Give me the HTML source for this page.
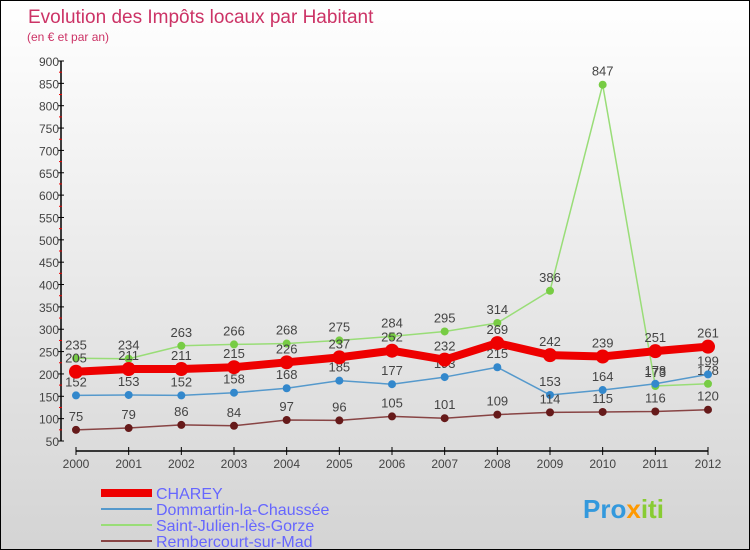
<!DOCTYPE html>
<html><head><meta charset="utf-8"><style>
body{margin:0}
#c{width:750px;height:550px;position:relative;box-sizing:border-box;border:1px solid #000;background:linear-gradient(#fff,#d4d4d4);font-family:"Liberation Sans","DejaVu Sans",sans-serif;overflow:hidden}
svg{position:absolute;left:0;top:0}
</style></head><body>
<div id="c">
<svg id="s" width="750" height="550"></svg>
</div>
<script>
const years=[2000,2001,2002,2003,2004,2005,2006,2007,2008,2009,2010,2011,2012];
const yTicks=[50,100,150,200,250,300,350,400,450,500,550,600,650,700,750,800,850,900];
const charey=[205,211,211,215,226,237,252,232,269,242,239,251,261];
const dommartin=[152,153,152,158,168,185,177,193,215,153,164,178,199];
const saintJulien=[235,234,263,266,268,275,284,295,314,386,847,173,178];
const rembercourt=[75,79,86,84,97,96,105,101,109,114,115,116,120];
const series=[
 {name:'Saint-Julien-lès-Gorze',vals:saintJulien,color:'#99dd77',dot:'#77cc44',w:1.5,r:4,id:'saint-julien'},
 {name:'Dommartin-la-Chaussée',vals:dommartin,color:'#5599cc',dot:'#3388cc',w:1.5,r:4,id:'dommartin'},
 {name:'Rembercourt-sur-Mad',vals:rembercourt,color:'#884444',dot:'#661a1a',w:1.5,r:4,id:'rembercourt'},
 {name:'CHAREY',vals:charey,color:'#ee0000',dot:'#ee0000',w:8,r:7,id:'charey'}];
const NS='http://www.w3.org/2000/svg',s=document.getElementById('s');
function X(i){return 75+i*(707-75)/12}
function Y(v){return 440-(v-50)*380/850}
function el(t,a,p){const e=document.createElementNS(NS,t);for(const k in a)e.setAttribute(k,a[k]);(p||s).appendChild(e);return e}
function tx(x,y,str,a){const e=el('text',Object.assign({x:x,y:y},a));e.textContent=str;return e}
let t=tx(27,22,'Evolution des Impôts locaux par Habitant',{fill:'#cc3366','font-size':19});

t=tx(26,40,'(en € et par an)',{fill:'#cc3366','font-size':12});

let a=el('line',{x1:60,y1:60,x2:60,y2:440,stroke:'#000','stroke-width':1.5});

yTicks.forEach((v,i)=>{const y=Y(v);
 el('line',{x1:57,y1:y,x2:63,y2:y,stroke:'#000'});
 if(i<yTicks.length-1)el('line',{x1:58,y1:Y(v+25),x2:61,y2:Y(v+25),stroke:'#ee0000'});
 const l=tx(58,y+5,v,{fill:'#444','font-size':12,'text-anchor':'end'});
 });
a=el('line',{x1:75,y1:450,x2:707,y2:450,stroke:'#000','stroke-width':1.5});

years.forEach((yr,i)=>{el('line',{x1:X(i),y1:446,x2:X(i),y2:454,stroke:'#000'});
 const l=tx(X(i),467,yr,{fill:'#444','font-size':12,'text-anchor':'middle'});
 });
series.forEach(se=>{
 const g=el('g',{});
 el('polyline',{points:se.vals.map((v,i)=>X(i)+','+Y(v)).join(' '),fill:'none',stroke:se.color,'stroke-width':se.w,'stroke-linejoin':'round'},g);
 se.vals.forEach((v,i)=>{const c=el('circle',{cx:X(i),cy:Y(v),r:se.r,fill:se.dot},g);
  
  const l=tx(X(i),Y(v)-9,v,{fill:'#444','font-size':13,'text-anchor':'middle'},g);
  });
});
const leg=[['CHAREY','#ee0000',8],['Dommartin-la-Chaussée','#5599cc',2],['Saint-Julien-lès-Gorze','#99dd77',2],['Rembercourt-sur-Mad','#884444',2]];
leg.forEach((L,i)=>{const y=492+i*16;const g=el('g',{});
 el('line',{x1:100,y1:y,x2:151,y2:y,stroke:L[1],'stroke-width':L[2]},g);
 tx(155,y+6,L[0],{fill:'#6666ff','font-size':16},g);});
const lg=el('text',{x:582,y:517,'font-size':26,'font-weight':'bold'});
[['Pro','#3399dd'],['x','#ff9900'],['iti','#88cc33']].forEach(p=>{const ts=el('tspan',{fill:p[1]},lg);ts.textContent=p[0];});
</script>
</body></html>
